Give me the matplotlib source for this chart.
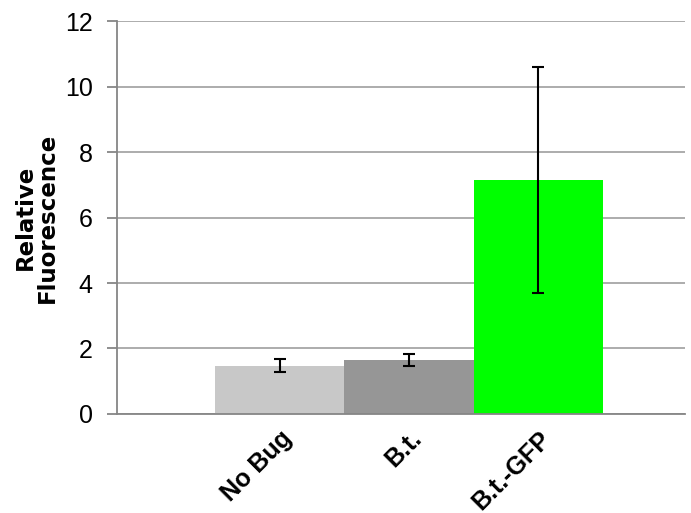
import matplotlib.pyplot as plt

categories = ["No Bug", "B.t.", "B.t.-GFP"]
values = [1.48, 1.65, 7.15]
errors = [0.20, 0.19, 3.45]
colors = ["#C8C8C8", "#969696", "#00FF00"]

plt.rcParams['font.family'] = ['Liberation Sans', 'DejaVu Sans']

fig = plt.figure(figsize=(6.91, 5.13), dpi=100)
ax = fig.add_axes([0.1693, 0.193, 0.822, 0.766])

x = list(range(len(categories)))
ax.bar(x, values, width=1.0, color=colors, zorder=2)
ax.errorbar(x, values, yerr=errors, fmt='none', ecolor='black',
            elinewidth=1.5, capsize=4.5, capthick=1.5, zorder=3)

ax.set_xlim(-1.26, 3.136)
ax.set_ylim(0, 12)
ax.set_yticks(range(0, 13, 2))
ax.yaxis.grid(True, color='#A6A6A6', linewidth=1.3, zorder=0)

ax.set_xticks(x)
ax.set_xticklabels(categories, rotation=45, ha='right', rotation_mode='anchor',
                   fontsize=18, fontweight='bold')
ax.tick_params(axis='x', length=0, pad=9)
ax.tick_params(axis='y', labelsize=18, length=7, color='#868686', width=1.3, pad=10.5)

for s in ['top', 'right']:
    ax.spines[s].set_visible(False)
for s in ['left', 'bottom']:
    ax.spines[s].set_color('#868686')
    ax.spines[s].set_linewidth(1.3)

ax.set_ylabel("Relative\nFluorescence", fontsize=16.5, fontweight='bold',
              family='DejaVu Sans', labelpad=4, linespacing=0.95)

fig.savefig("out.png", dpi=100)
